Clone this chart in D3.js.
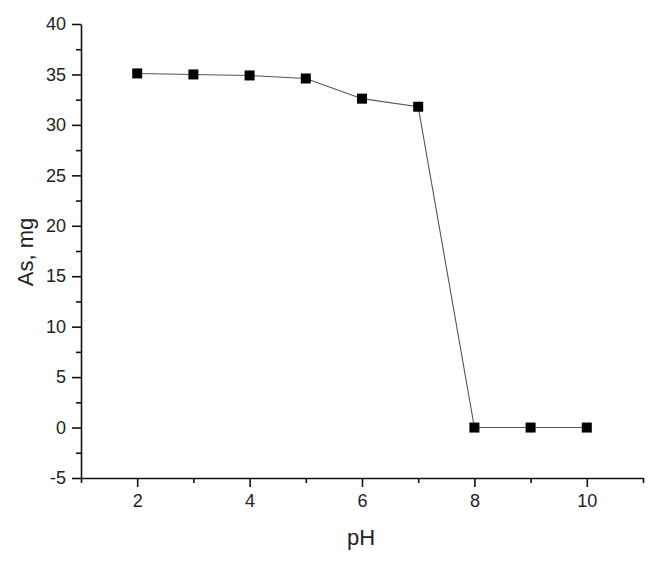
<!DOCTYPE html>
<html>
<head>
<meta charset="utf-8">
<script src="https://cdn.jsdelivr.net/npm/d3@7"></script>
<style>
  body { margin: 0; background: #fff; }
</style>
</head>
<body>
<svg id="chart" width="660" height="565"></svg>
<script>
// data
const phValues = [2, 3, 4, 5, 6, 7, 8, 9, 10];
const arsenicMg = [35.1, 35.0, 34.9, 34.6, 32.6, 31.8, 0, 0, 0];
const xTicks = [2, 4, 6, 8, 10];
const yTicks = [-5, 0, 5, 10, 15, 20, 25, 30, 35, 40];

const margin = { top: 24, left: 81, right: 17, bottom: 87 };
const width = 660 - margin.left - margin.right;
const height = 565 - margin.top - margin.bottom;

const font = '"Liberation Sans", Arial, sans-serif';
const svg = d3.select('#chart');
const g = svg.append('g').attr('transform', `translate(${margin.left},${margin.top})`);

const x = d3.scaleLinear().domain([1, 11]).range([0, width]);
const y = d3.scaleLinear().domain([-5, 40]).range([height, 0]);

// minor ticks first
g.append('g')
  .attr('transform', `translate(0,${height})`)
  .call(d3.axisBottom(x).tickValues([1, 3, 5, 7, 9, 11]).tickSize(5).tickFormat(''))
  .call(a => a.select('.domain').remove());
g.append('g')
  .call(d3.axisLeft(y).tickValues(d3.range(-2.5, 40, 5)).tickSize(5).tickFormat(''))
  .call(a => a.select('.domain').remove());

const xAxis = g.append('g')
  .attr('transform', `translate(0,${height})`)
  .call(d3.axisBottom(x).tickValues(xTicks).tickSize(9).tickSizeOuter(0).tickPadding(7).tickFormat(d => String(d)));
const yAxis = g.append('g')
  .call(d3.axisLeft(y).tickValues(yTicks).tickSize(9).tickSizeOuter(0).tickPadding(6).tickFormat(d => String(d)));

g.selectAll('.domain, .tick line').attr('stroke', '#111').attr('stroke-width', 1.6);
g.selectAll('.tick text')
  .attr('fill', '#222')
  .style('font-family', font)
  .style('font-size', '18px');

// line + markers
const line = d3.line().x((d, i) => x(phValues[i])).y(d => y(d));
g.append('path')
  .datum(arsenicMg)
  .attr('d', line)
  .attr('fill', 'none')
  .attr('stroke', '#555')
  .attr('stroke-width', 1.1);

const s = 10;
g.selectAll('rect.pt')
  .data(arsenicMg)
  .join('rect')
  .attr('class', 'pt')
  .attr('x', (d, i) => x(phValues[i]) - s / 2)
  .attr('y', d => y(d) - s / 2)
  .attr('width', s)
  .attr('height', s)
  .attr('fill', '#000');

// axis titles
svg.append('text')
  .attr('x', margin.left + width / 2 - 1)
  .attr('y', 545)
  .attr('text-anchor', 'middle')
  .style('font-family', font)
  .style('font-size', '22px')
  .attr('fill', '#222')
  .text('pH');
svg.append('text')
  .attr('transform', `translate(33,${margin.top + height / 2 + 1}) rotate(-90)`)
  .attr('text-anchor', 'middle')
  .style('font-family', font)
  .style('font-size', '22px')
  .attr('fill', '#222')
  .text('As, mg');
</script>
</body>
</html>
